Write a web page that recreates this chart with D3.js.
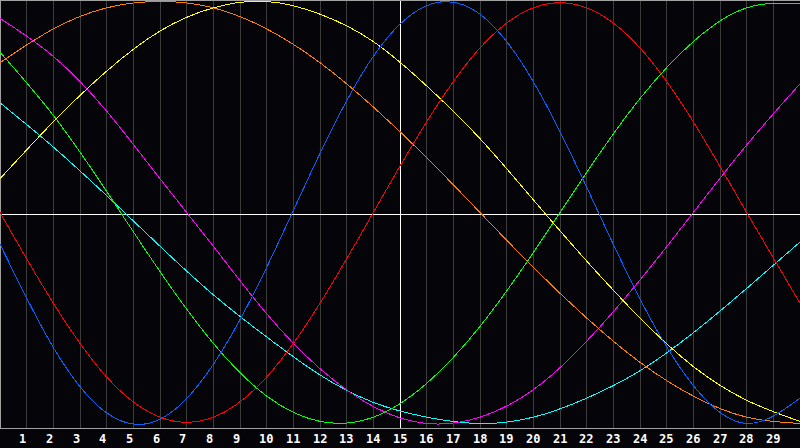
<!DOCTYPE html>
<html>
<head>
<meta charset="utf-8">
<script src="https://cdn.jsdelivr.net/npm/d3@7"></script>
<style>
  html, body { margin: 0; padding: 0; background: #000; }
  svg { display: block; }
  .tick-label { font-family: "DejaVu Sans Mono", monospace; font-weight: bold; font-size: 12px; fill: #fff; }
</style>
</head>
<body>
<div id="chart"></div>
<script>
// sample days (every 2 days) and curve values (-1..1)
const days = [0, 2, 4, 6, 8, 10, 12, 14, 16, 18, 20, 22, 24, 26, 28, 30];
const dayTicks = d3.range(1, 30);

const blue    = [-0.15, -0.64, -0.95, -0.98, -0.72, -0.26, 0.28, 0.74, 0.98, 0.94, 0.62, 0.12, -0.41, -0.82, -1.00, -0.88];
const red     = [0, -0.43, -0.78, -0.97, -0.97, -0.78, -0.43, 0, 0.43, 0.78, 0.97, 0.97, 0.78, 0.43, 0, -0.43];
const green   = [0.76, 0.46, 0.10, -0.28, -0.62, -0.87, -0.99, -0.97, -0.81, -0.54, -0.19, 0.19, 0.54, 0.81, 0.97, 0.99];
const magenta = [0.92, 0.74, 0.48, 0.16, -0.16, -0.48, -0.74, -0.92, -1.00, -0.97, -0.84, -0.61, -0.32, 0, 0.32, 0.61];
const yellow  = [0.16, 0.43, 0.67, 0.86, 0.97, 1.00, 0.94, 0.81, 0.60, 0.35, 0.06, -0.23, -0.50, -0.73, -0.89, -0.99];
const orange  = [0.71, 0.87, 0.97, 1.00, 0.97, 0.87, 0.71, 0.50, 0.26, 0, -0.26, -0.50, -0.71, -0.87, -0.97, -1.00];
const cyan    = [0.52, 0.31, 0.08, -0.16, -0.39, -0.59, -0.77, -0.90, -0.97, -1.00, -0.97, -0.88, -0.75, -0.57, -0.36, -0.14];

const series = [
  { name: "cyan", values: cyan, color: "#00ffff" },
  { name: "magenta", values: magenta, color: "#ff00ff" },
  { name: "orange", values: orange, color: "#ff8000" },
  { name: "yellow", values: yellow, color: "#ffff00" },
  { name: "green", values: green, color: "#00ff00" },
  { name: "red", values: red, color: "#ff0000" },
  { name: "blue", values: blue, color: "#0066ff" }
];

const W = 800, H = 448, plotH = 428;

const svg = d3.select("#chart").append("svg")
  .attr("width", W)
  .attr("height", H);

svg.append("rect").attr("width", W).attr("height", H).attr("fill", "#050408");

const x = d3.scaleLinear().domain([0, 30]).range([0, W]);
const y = d3.scaleLinear().domain([-1, 1]).range([423.5, 1.5]);

// day grid
svg.append("g")
  .selectAll("line")
  .data(dayTicks)
  .join("line")
  .attr("x1", d => Math.floor(x(d)) + 0.5)
  .attr("x2", d => Math.floor(x(d)) + 0.5)
  .attr("y1", 0)
  .attr("y2", plotH)
  .attr("stroke", d => d === 15 ? "#ffffff" : "#3c3c3c")
  .attr("stroke-width", 1)
  .attr("shape-rendering", "crispEdges");

// zero line across the middle of the frame
svg.append("line")
  .attr("x1", 0).attr("x2", W)
  .attr("y1", plotH / 2 + 0.5).attr("y2", plotH / 2 + 0.5)
  .attr("stroke", "#ffffff")
  .attr("shape-rendering", "crispEdges");

// frame
svg.append("path")
  .attr("d", `M${W},0.5H0.5V${plotH + 0.5}H${W}`)
  .attr("fill", "none")
  .attr("stroke", "#a0a0a0")
  .attr("shape-rendering", "crispEdges");

const line = d3.line()
  .x((d, i) => x(days[i]))
  .y(d => y(d))
  .curve(d3.curveNatural);

svg.append("g")
  .selectAll("path")
  .data(series)
  .join("path")
  .attr("d", d => line(d.values))
  .attr("fill", "none")
  .attr("stroke", d => d.color)
  .attr("stroke-width", 1)
  .attr("shape-rendering", "crispEdges");

// day labels
svg.append("g")
  .selectAll("text")
  .data(dayTicks)
  .join("text")
  .attr("class", "tick-label")
  .attr("x", d => Math.floor(x(d)) - 7)
  .attr("y", 443)
  .text(d => d);
</script>
</body>
</html>
